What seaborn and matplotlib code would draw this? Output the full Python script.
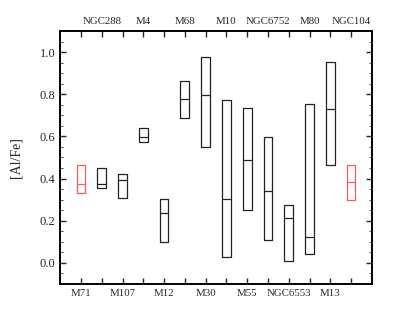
import pandas as pd
import matplotlib
matplotlib.use('Agg')
import matplotlib.pyplot as plt
from matplotlib.ticker import MultipleLocator
import seaborn as sns

sns.set_style('ticks')
plt.rcParams['font.family'] = ['Liberation Serif', 'DejaVu Serif']

clusters = ['M71', 'NGC288', 'M107', 'M4', 'M12', 'M68', 'M30',
            'M10', 'M55', 'NGC6752', 'NGC6553', 'M80', 'M13', 'NGC104']
al_min = [0.33, 0.355, 0.31, 0.572, 0.097, 0.687, 0.55,
          0.03, 0.249, 0.108, 0.01, 0.04, 0.463, 0.30]
al_med = [0.372, 0.372, 0.391, 0.599, 0.238, 0.776, 0.795,
          0.303, 0.489, 0.341, 0.211, 0.121, 0.732, 0.382]
al_max = [0.464, 0.448, 0.421, 0.638, 0.301, 0.865, 0.976,
          0.774, 0.736, 0.597, 0.273, 0.752, 0.952, 0.463]
red_ones = ['M71', 'NGC104']

# 5 points per cluster so that Q1 = min, Q3 = max, middle = median
rows = []
for c, lo, md, hi in zip(clusters, al_min, al_med, al_max):
    for v in [lo, lo, md, hi, hi]:
        rows.append({'cluster': c, 'alfe': v})
df = pd.DataFrame(rows)

palette = {c: ('#ff5a5a' if c in red_ones else '#222222') for c in clusters}

fig, ax = plt.subplots(figsize=(4.15, 3.23), dpi=100)
sns.boxplot(data=df, x='cluster', y='alfe', hue='cluster', palette=palette,
            order=clusters, fill=False, whis=0, showcaps=False,
            showfliers=False, width=0.42, linewidth=0.9, legend=False, ax=ax)

ax.set_xlim(-1, 14)
ax.set_ylim(-0.1, 1.1)
ax.yaxis.set_minor_locator(MultipleLocator(0.05))
ax.set_yticks([0.0, 0.2, 0.4, 0.6, 0.8, 1.0])
ax.set_yticklabels(['0.0', '0.2', '0.4', '0.6', '0.8', '1.0'])

pos = list(range(len(clusters)))
ax.set_xticks(pos)
ax.set_xticklabels([c if i % 2 == 0 else '' for i, c in enumerate(clusters)])
ax.set_xlabel('')
ax.set_ylabel('[Al/Fe]', fontsize=10, labelpad=12)
ax.tick_params(axis='both', direction='in', length=4, width=1.0,
               labelsize=9, right=True)
ax.tick_params(axis='y', which='minor', direction='in', length=2, right=True)
ax.tick_params(axis='x', labelsize=7.8)

top = ax.twiny()
top.set_xlim(ax.get_xlim())
top.set_xticks(pos)
top.set_xticklabels([c if i % 2 == 1 else '' for i, c in enumerate(clusters)])
top.tick_params(axis='x', direction='in', length=4, width=1.0, labelsize=7.8)

for a in (ax, top):
    for s in a.spines.values():
        s.set_linewidth(1.2)
        s.set_color('black')

fig.subplots_adjust(left=0.145, right=0.896, bottom=0.121, top=0.904)
fig.savefig('out.png', dpi=100)
